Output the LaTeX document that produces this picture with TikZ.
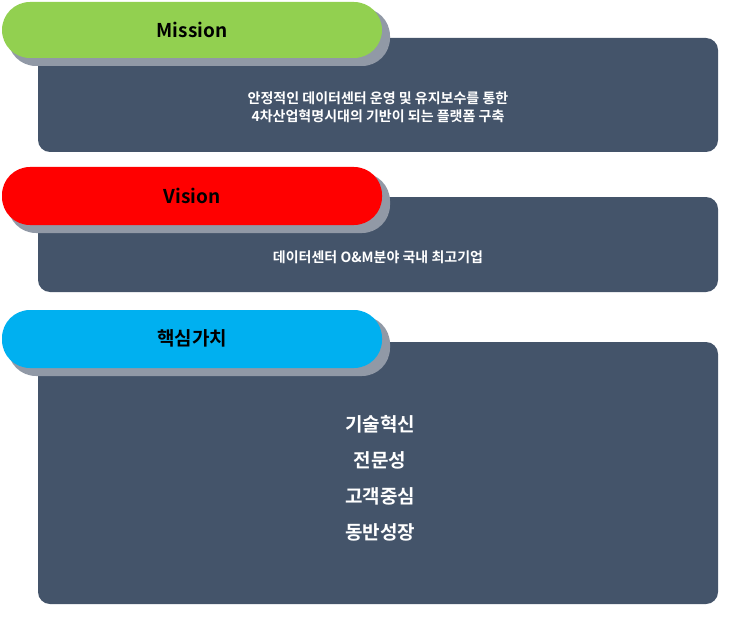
\documentclass[tikz,border=0pt]{standalone}
\usepackage{fontspec}
\setmainfont{Noto Sans CJK KR}[BoldFont={* Bold}]
\definecolor{slate}{HTML}{44546A}
\definecolor{shad}{HTML}{9199A6}
\definecolor{mgreen}{HTML}{92D050}
\definecolor{vred}{HTML}{FF0000}
\definecolor{ccyan}{HTML}{00B0F0}
\begin{document}
\begin{tikzpicture}[x=1pt,y=-1pt,
  panel/.style={fill=slate,rounded corners=12pt},
  pill/.style={rounded corners=28pt},
  ptext/.style={font=\bfseries\fontsize{19}{22}\selectfont,text=black},
  btext/.style={font=\bfseries\fontsize{14}{18}\selectfont,text=white,align=center},
  vtext/.style={font=\bfseries\fontsize{19}{36}\selectfont,text=white,align=center}]
\useasboundingbox[fill=white] (0,0) rectangle (739,623);
% box 1
\fill[panel] (38,38) rectangle (718,152);
\fill[shad,pill] (8,8) rectangle (390,66);
\fill[mgreen,pill] (2,2) rectangle (382,58);
\node[ptext] (m) at (192,30) {Mission};
\node[btext] (mt) at (378,107) {안정적인 데이터센터 운영 및 유지보수를 통한\\4차산업혁명시대의 기반이 되는 플랫폼 구축};
% box 2
\fill[panel] (38,197) rectangle (718,292);
\fill[shad,pill] (8,173) rectangle (390,233);
\fill[vred,pill] (2,167) rectangle (382,225);
\node[ptext] (v) at (192,196) {Vision};
\node[btext] (vt) at (378,257) {데이터센터 O\&M분야 국내 최고기업};
% box 3
\fill[panel] (38,342) rectangle (718,604);
\fill[shad,pill] (8,316) rectangle (390,376);
\fill[ccyan,pill] (2,310) rectangle (382,368);
\node[ptext] (c) at (192,338) {핵심가치};
\node[vtext] (ct) at (380,478) {기술혁신\\전문성\\고객중심\\동반성장};
\end{tikzpicture}
\end{document}
